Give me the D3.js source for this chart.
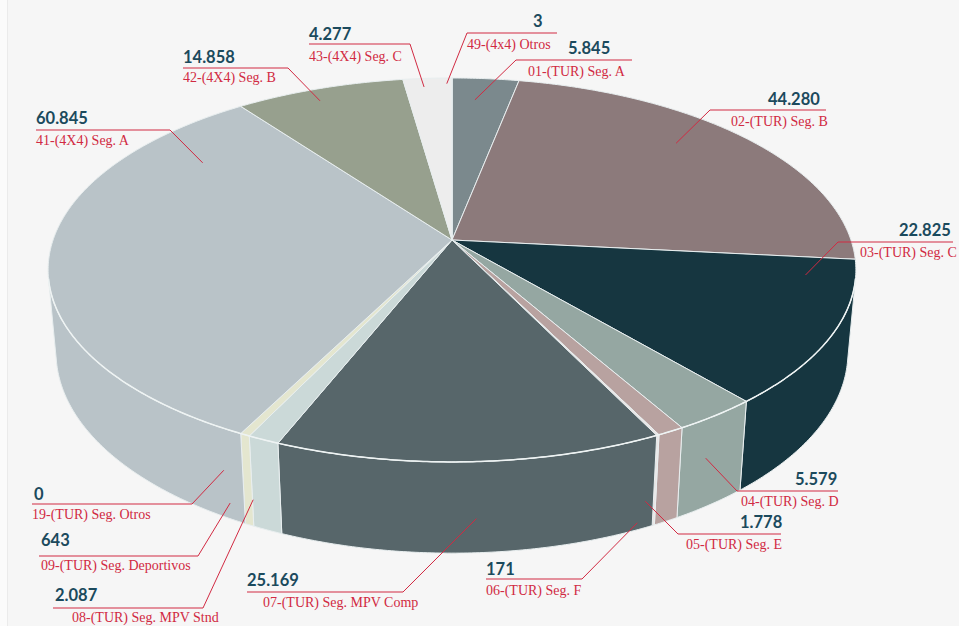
<!DOCTYPE html>
<html>
<head>
<meta charset="utf-8">
<script src="https://cdn.jsdelivr.net/npm/d3@7"></script>
<style>
  html, body { margin: 0; padding: 0; background: #f6f6f6; }
  svg { display: block; }
  .val { font-family: Lato, "Open Sans", sans-serif; font-weight: 700; font-size: 16.5px; fill: #1b4a5d; }
  .lab { font-family: "Liberation Serif", serif; font-size: 14px; fill: #d12a42; }
  .lead { stroke: #d12a42; stroke-width: 1; fill: none; }
</style>
</head>
<body>
<div id="chart"></div>
<script>
// segments, clockwise from 12 o'clock
const categories = [
  "01-(TUR) Seg. A", "02-(TUR) Seg. B", "03-(TUR) Seg. C", "04-(TUR) Seg. D",
  "05-(TUR) Seg. E", "06-(TUR) Seg. F", "07-(TUR) Seg. MPV Comp", "08-(TUR) Seg. MPV Stnd",
  "09-(TUR) Seg. Deportivos", "19-(TUR) Seg. Otros", "41-(4X4) Seg. A", "42-(4X4) Seg. B",
  "43-(4X4) Seg. C", "49-(4x4) Otros"
];
const values = [5845, 44280, 22825, 5579, 1778, 171, 25169, 2087, 643, 0, 60845, 14858, 4277, 3];

const palette = [
  "#7b898d", "#8c7a7b", "#163640", "#95a7a2", "#b8a2a0", "#ebe6e5", "#57666a",
  "#cbd9d8", "#e4e6cf", "#d9d9d9", "#b9c3c8", "#97a08e", "#ededed", "#e0e0e0"
];

// label boxes (px) and where the leader touches the pie (angle deg, radius, wall depth)
const labelLayout = [
  { x0: 516, x1: 632, y: 60,  vx: 568, vy: 54,  lx: 528, ly: 76,  end: "left",  a: 4.4,   r: 0.85, t: 0 },
  { x0: 710, x1: 826, y: 110, vx: 768, vy: 105, lx: 731, ly: 126, end: "left",  a: 47.4,  r: 0.83, t: 0 },
  { x0: 838, x1: 953, y: 242, vx: 899, vy: 236, lx: 860, ly: 257, end: "left",  a: 101.9, r: 0.88, t: 0 },
  { x0: 737, x1: 838, y: 491, vx: 795, vy: 485, lx: 741, ly: 506, end: "left",  a: 146,   r: 1, t: 0.44 },
  { x0: 678, x1: 781, y: 534, vx: 740, vy: 528, lx: 686, ly: 549, end: "left",  a: 155,   r: 1, t: 0.70 },
  { x0: 486, x1: 582, y: 579, vx: 486, vy: 575, lx: 486, ly: 595, end: "right", a: 156,   r: 1, t: 0.92 },
  { x0: 247, x1: 403, y: 592, vx: 247, vy: 586, lx: 263, ly: 607, end: "right", a: 177,   r: 1, t: 0.62 },
  { x0: 53,  x1: 203, y: 608, vx: 55,  vy: 601, lx: 72,  ly: 622, end: "right", a: 205.8, r: 1, t: 0.70 },
  { x0: 39,  x1: 198, y: 556, vx: 41,  vy: 546, lx: 41,  ly: 570, end: "right", a: 209.3, r: 1, t: 0.82 },
  { x0: 32,  x1: 192, y: 504, vx: 34,  vy: 500, lx: 32,  ly: 519, end: "right", a: 210,   r: 1, t: 0.47 },
  { x0: 36,  x1: 170, y: 130, vx: 36,  vy: 124, lx: 36,  ly: 145, end: "right", a: 303.4, r: 0.80, t: 0 },
  { x0: 183, x1: 288, y: 68,  vx: 183, vy: 63,  lx: 183, ly: 82,  end: "right", a: 336,   r: 0.92, t: 0 },
  { x0: 309, x1: 410, y: 44,  vx: 309, vy: 40,  lx: 309, ly: 61,  end: "right", a: 355.1, r: 0.94, t: 0 },
  { x0: 467, x1: 557, y: 33,  vx: 533, vy: 27,  lx: 467, ly: 49,  end: "left",  a: 359.1, r: 0.96, t: 0 }
];

const width = 959, height = 626;
const fmt = d3.formatLocale({ decimal: ",", thousands: ".", grouping: [3], currency: ["", ""] }).format(",d");

// perspective camera
const cam = { cx: 452, cy: 240, f: 2258, D: 5.66, tilt: 28 * Math.PI / 180, h: 0.236 };
const sinT = Math.sin(cam.tilt), cosT = Math.cos(cam.tilt);

function project(a, r, t) {
  const x = r * Math.sin(a), z = -r * Math.cos(a), y = -t * cam.h;
  const depth = cam.D - y * sinT - z * cosT;
  const up = y * cosT - z * sinT;
  return [cam.cx + cam.f * x / depth, cam.cy - cam.f * up / depth];
}

function arcPoints(a0, a1, t) {
  const n = Math.max(2, Math.ceil(Math.abs(a1 - a0) / (Math.PI / 360)));
  return d3.range(n + 1).map(i => project(a0 + (a1 - a0) * i / n, 1, t));
}

const svg = d3.select("#chart").append("svg")
  .attr("width", width).attr("height", height);

svg.append("rect").attr("width", width).attr("height", height).attr("fill", "#f6f6f6");
svg.append("rect").attr("width", 7).attr("height", height).attr("fill", "#fbfbfb");
svg.append("line").attr("x1", 7.5).attr("x2", 7.5).attr("y1", 0).attr("y2", height)
  .attr("stroke", "#ebebeb");

const pie = d3.pie().sort(null).value(d => d.value).startAngle(0).endAngle(2 * Math.PI);
const arcs = pie(categories.map((c, i) => ({ name: c, value: values[i], color: palette[i] })));

const line = d3.line();

// outer wall is only seen where it faces the camera
const aMin = Math.acos(-1 / (cam.D * cosT));
const aMax = 2 * Math.PI - aMin;

const walls = arcs.filter(d => d.endAngle > aMin && d.startAngle < aMax && d.endAngle > d.startAngle)
  .map(d => {
    const a0 = Math.max(d.startAngle, aMin), a1 = Math.min(d.endAngle, aMax);
    const pts = arcPoints(a0, a1, 0).concat(arcPoints(a1, a0, 1));
    return { d, pts };
  });

svg.append("g").selectAll("path").data(walls).join("path")
  .attr("d", w => line(w.pts) + "Z")
  .attr("fill", w => w.d.data.color)
  .attr("stroke", "#e8eeef")
  .attr("stroke-width", 1)
  .attr("stroke-linejoin", "round");

svg.append("g").selectAll("path").data(arcs.filter(d => d.endAngle > d.startAngle)).join("path")
  .attr("d", d => line([project(0, 0, 0)].concat(arcPoints(d.startAngle, d.endAngle, 0))) + "Z")
  .attr("fill", d => d.data.color)
  .attr("stroke", "#e8eeef")
  .attr("stroke-width", 1)
  .attr("stroke-linejoin", "round");

// bright rim where top meets wall
svg.append("path")
  .attr("d", line(arcPoints(aMin, aMax, 0)))
  .attr("fill", "none")
  .attr("stroke", "#eef3f3")
  .attr("stroke-width", 1.5);

// labels
const lab = svg.append("g").selectAll("g").data(arcs).join("g");

lab.append("path")
  .attr("class", "lead")
  .attr("d", (d, i) => {
    const L = labelLayout[i];
    const p = project(L.a * Math.PI / 180, L.r, L.t);
    const ex = L.end === "left" ? L.x0 : L.x1;
    const fx = L.end === "left" ? L.x1 : L.x0;
    return line([p, [ex, L.y], [fx, L.y]]);
  });

lab.append("text")
  .attr("class", "val")
  .attr("x", (d, i) => labelLayout[i].vx)
  .attr("y", (d, i) => labelLayout[i].vy)
  .text(d => fmt(d.data.value));

lab.append("text")
  .attr("class", "lab")
  .attr("x", (d, i) => labelLayout[i].lx)
  .attr("y", (d, i) => labelLayout[i].ly)
  .text(d => d.data.name);
</script>
</body>
</html>
